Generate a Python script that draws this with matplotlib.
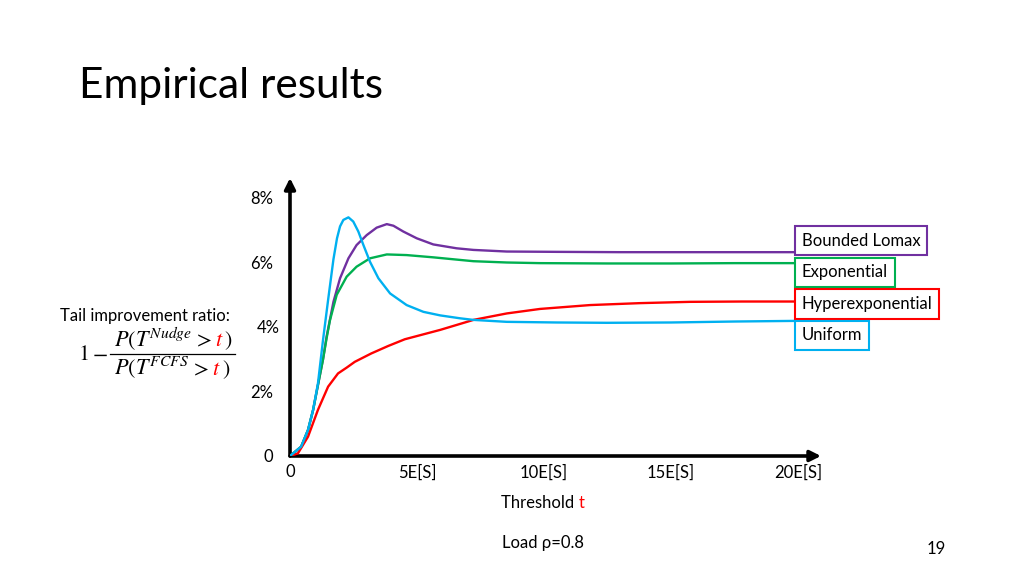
import matplotlib
matplotlib.use("Agg")
import matplotlib.pyplot as plt
from matplotlib.lines import Line2D
from matplotlib.transforms import ScaledTranslation

plt.rcParams['font.family'] = ['Lato', 'DejaVu Sans']
plt.rcParams['mathtext.fontset'] = 'stix'

# threshold (multiples of E[S]) and tail improvement ratio (%)
lomax_x = [0, 0.44, 0.71, 0.91, 1.10, 1.30, 1.44, 1.71, 1.97, 2.30, 2.62, 3.02, 3.41, 3.81, 4.07,
           4.46, 4.99, 5.64, 6.56, 7.22, 8.53, 10.5, 13.0, 16.0, 19.95]
lomax_y = [0, 0.29, 0.81, 1.43, 2.20, 3.00, 3.70, 4.78, 5.51, 6.13, 6.54, 6.85, 7.08, 7.19, 7.14,
           6.96, 6.75, 6.56, 6.44, 6.39, 6.34, 6.33, 6.32, 6.32, 6.32]

expo_x = [0, 0.44, 0.71, 0.91, 1.10, 1.30, 1.44, 1.57, 1.84, 2.23, 2.62, 3.15, 3.81, 4.59, 5.64,
          6.69, 7.22, 8.53, 9.84, 12.5, 15.0, 17.5, 19.95]
expo_y = [0, 0.29, 0.81, 1.43, 2.20, 3.00, 3.65, 4.20, 5.00, 5.56, 5.87, 6.13, 6.25, 6.23, 6.16,
          6.08, 6.04, 6.00, 5.98, 5.97, 5.97, 5.98, 5.98]

hyper_x = [0, 0.31, 0.71, 1.10, 1.50, 1.89, 2.23, 2.55, 3.20, 3.86, 4.52, 5.91, 7.22, 8.53, 9.84,
           11.81, 13.78, 15.75, 17.8, 19.95]
hyper_y = [0, 0.08, 0.60, 1.43, 2.15, 2.56, 2.74, 2.92, 3.18, 3.41, 3.62, 3.91, 4.22, 4.42, 4.56,
           4.68, 4.74, 4.78, 4.79, 4.79]

unif_x = [0, 0.44, 0.71, 0.91, 1.10, 1.30, 1.51, 1.71, 1.85, 1.97, 2.10, 2.30, 2.49, 2.69, 2.89,
          3.15, 3.48, 3.94, 4.59, 5.25, 5.91, 6.69, 7.22, 8.53, 10.5, 12.47, 15.0, 17.5, 19.95]
unif_y = [0, 0.29, 0.81, 1.43, 2.25, 3.60, 4.90, 6.10, 6.75, 7.12, 7.32, 7.40, 7.27, 6.96, 6.54,
          6.02, 5.51, 5.04, 4.68, 4.47, 4.36, 4.27, 4.22, 4.16, 4.14, 4.13, 4.14, 4.17, 4.19]

series_names = ["Bounded Lomax", "Exponential", "Hyperexponential", "Uniform"]
series_x = [lomax_x, expo_x, hyper_x, unif_x]
series_y = [lomax_y, expo_y, hyper_y, unif_y]
colors = ["#7030A0", "#00B050", "#FF0000", "#00B0F0"]
# vertical centre of each label box (in % units)
label_y = [6.68, 5.69, 4.71, 3.74]

x_ticks = [0, 5, 10, 15, 20]
x_tick_labels = ["0", "5E[S]", "10E[S]", "15E[S]", "20E[S]"]
y_ticks = [0, 2, 4, 6, 8]
y_tick_labels = ["0", "2%", "4%", "6%", "8%"]

W, H = 1024, 576
fig = plt.figure(figsize=(W / 100, H / 100), dpi=100)
ax = fig.add_axes([290 / W, 120 / H, 531 / W, 278 / H])
ax.set_xlim(0, 20.9)
ax.set_ylim(0, 8.62)

for s in ax.spines.values():
    s.set_visible(False)

# axis arrows
arrow = dict(arrowstyle='-|>', lw=2.6, color='black', mutation_scale=16, shrinkA=0, shrinkB=0)
ax.annotate('', xy=(1, 0), xytext=(0, 0), xycoords='axes fraction', arrowprops=arrow, annotation_clip=False)
ax.annotate('', xy=(0, 1), xytext=(0, 0), xycoords='axes fraction', arrowprops=arrow, annotation_clip=False)

for name, xs, ys, c, ly in zip(series_names, series_x, series_y, colors, label_y):
    ax.plot(xs, ys, color=c, lw=1.7, zorder=3, solid_joinstyle='round', solid_capstyle='round')
    ax.text(20.15, ly, name, fontsize=12, ha='left', va='center', zorder=4,
            bbox=dict(boxstyle='square,pad=0.4', fc='white', ec=c, lw=1.5))

ax.set_xticks(x_ticks, x_tick_labels)
ax.set_yticks(y_ticks, y_tick_labels)
ax.tick_params(axis='x', length=0, pad=6, labelsize=12)
ax.tick_params(axis='y', length=0, pad=12, labelsize=12)
# the 4% label sits slightly to the right on the slide
ax.get_yticklabels()[2].set_transform(
    ax.get_yticklabels()[2].get_transform() + ScaledTranslation(0.06, 0, fig.dpi_scale_trans))


def rich_text(x, y, parts, size):
    # parts are (text, colour, gap after in px); x is the centre, y the baseline,
    # both in pixels from top left
    texts = [fig.text(0, 1 - y / H, s, color=c, fontsize=size, va='baseline') for s, c, g in parts]
    r = fig.canvas.get_renderer()
    widths = [t.get_window_extent(r).width + g for t, (s, c, g) in zip(texts, parts)]
    left = x - sum(widths) / 2
    for t, w in zip(texts, widths):
        t.set_x(left / W)
        left += w


red = "#FF0000"
fig.text(79 / W, 1 - 86 / H, "Empirical results", fontsize=30.5, va='center')
fig.text(60 / W, 1 - 316 / H, "Tail improvement ratio:", fontsize=12, va='center')
rich_text(173, 346, [(r"$P(T^{Nudge}$", 'black', 1), (r"$>$", 'black', 3),
                     (r"$t$", red, 1), (r"$)$", 'black', 0)], 16)
rich_text(172, 375, [(r"$P(T^{FCFS}$", 'black', 1), (r"$>$", 'black', 3),
                     (r"$t$", red, 1), (r"$)$", 'black', 0)], 16)
fig.add_artist(Line2D([110 / W, 235 / W], [1 - 353.5 / H] * 2, color='black', lw=0.9))
rich_text(93, 360, [(r"$1$", 'black', 4), (r"$-$", 'black', 0)], 16)

rich_text(543, 508, [("Threshold ", 'black', 0), ("t", red, 0)], 12)
fig.text(543 / W, 1 - 543 / H, "Load ρ=0.8", fontsize=12, ha='center', va='center')
fig.text(936 / W, 1 - 549 / H, "19", fontsize=12, ha='center', va='center')

fig.savefig("out.png", dpi=100)
